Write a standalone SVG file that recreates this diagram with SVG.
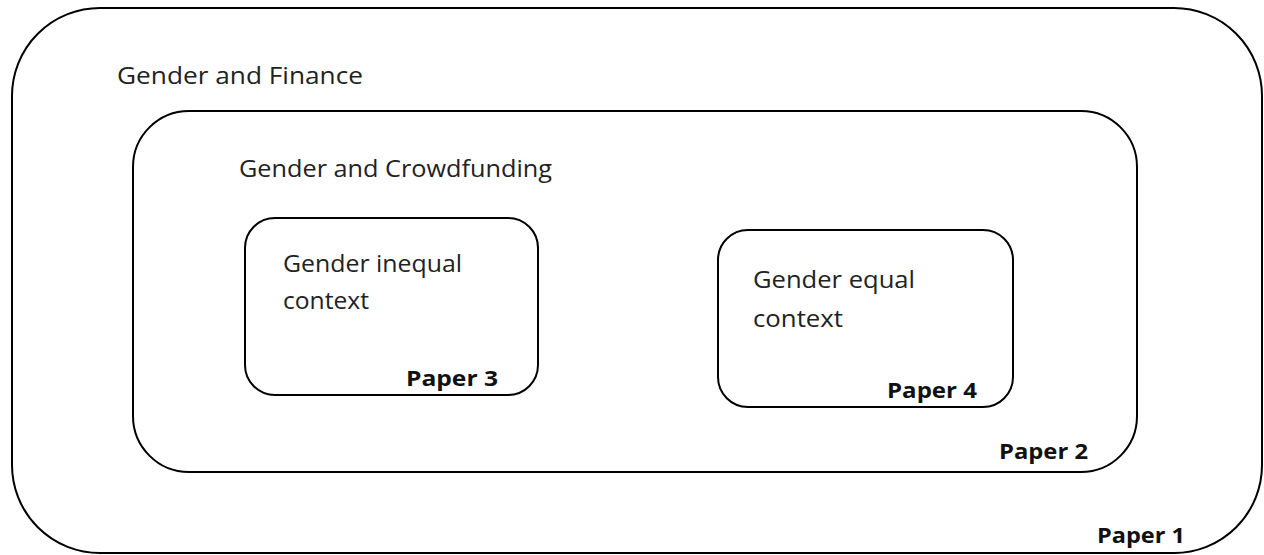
<svg xmlns="http://www.w3.org/2000/svg" width="1264" height="555" viewBox="0 0 1264 555">
  <style>
    .box { fill: none; stroke: #000; stroke-width: 2; }
    .lbl { font-family: "Open Sans", "Noto Sans", sans-serif; font-size: 23.5px; fill: #222; }
    .paper { font-family: "Open Sans", "Noto Sans", sans-serif; font-size: 22px; font-weight: bold; fill: #111; }
  </style>
  <rect width="1264" height="555" fill="#fff"/>

  <g id="finance">
    <rect class="box" x="12" y="8" width="1250" height="545" rx="88" ry="88"/>
    <text class="lbl" x="117" y="84" textLength="246" lengthAdjust="spacingAndGlyphs">Gender and Finance</text>
    <text class="paper" x="1097" y="543" textLength="88" lengthAdjust="spacingAndGlyphs">Paper 1</text>
  </g>

  <g id="crowdfunding">
    <rect class="box" x="133" y="111" width="1004" height="361" rx="56" ry="56"/>
    <text class="lbl" x="239" y="177" textLength="313" lengthAdjust="spacingAndGlyphs">Gender and Crowdfunding</text>
    <text class="paper" x="999" y="459" textLength="89" lengthAdjust="spacingAndGlyphs">Paper 2</text>
  </g>

  <g id="inequal">
    <rect class="box" x="245" y="218" width="293" height="177" rx="30" ry="30"/>
    <text class="lbl" x="283" y="272" textLength="179" lengthAdjust="spacingAndGlyphs">Gender inequal</text>
    <text class="lbl" x="283" y="309" textLength="86" lengthAdjust="spacingAndGlyphs">context</text>
    <text class="paper" x="406" y="386" textLength="92" lengthAdjust="spacingAndGlyphs">Paper 3</text>
  </g>

  <g id="equal">
    <rect class="box" x="718" y="230" width="295" height="177" rx="30" ry="30"/>
    <text class="lbl" x="753" y="288" textLength="162" lengthAdjust="spacingAndGlyphs">Gender equal</text>
    <text class="lbl" x="753" y="327" textLength="90" lengthAdjust="spacingAndGlyphs">context</text>
    <text class="paper" x="887" y="398" textLength="90" lengthAdjust="spacingAndGlyphs">Paper 4</text>
  </g>

  <g id="connectors"></g>
</svg>
